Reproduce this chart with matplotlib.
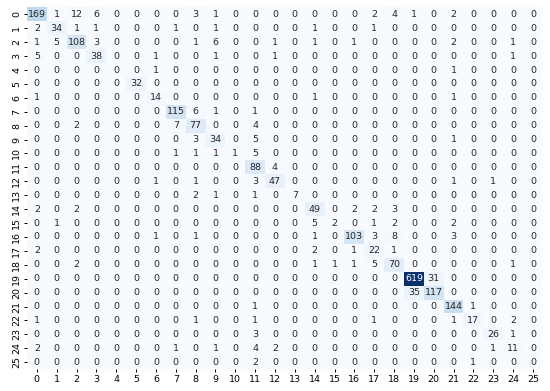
import matplotlib
matplotlib.use('Agg')
import matplotlib.pyplot as plt
import numpy as np
import seaborn as sns

# Confusion matrix rows (true class 0..25), columns = predicted class 0..25
row_00 = [169, 1, 12, 6, 0, 0, 0, 0, 3, 1, 0, 0, 0, 0, 0, 0, 0, 2, 4, 1, 0, 2, 0, 0, 0, 0]
row_01 = [2, 34, 1, 1, 0, 0, 0, 1, 0, 1, 0, 0, 0, 0, 1, 0, 0, 1, 0, 0, 0, 0, 0, 0, 0, 0]
row_02 = [1, 5, 108, 3, 0, 0, 0, 0, 1, 6, 0, 0, 1, 0, 1, 0, 1, 0, 0, 0, 0, 2, 0, 0, 1, 0]
row_03 = [5, 0, 0, 38, 0, 0, 1, 0, 0, 1, 0, 0, 1, 0, 0, 0, 0, 0, 0, 0, 0, 0, 0, 0, 1, 0]
row_04 = [0, 0, 0, 0, 0, 0, 1, 0, 0, 0, 0, 0, 0, 0, 0, 0, 0, 0, 0, 0, 0, 1, 0, 0, 0, 0]
row_05 = [0, 0, 0, 0, 0, 32, 0, 0, 0, 0, 0, 0, 0, 0, 0, 0, 0, 0, 0, 0, 0, 0, 0, 0, 0, 0]
row_06 = [1, 0, 0, 0, 0, 0, 14, 0, 0, 0, 0, 0, 0, 0, 1, 0, 0, 0, 0, 0, 0, 1, 0, 0, 0, 0]
row_07 = [0, 0, 0, 0, 0, 0, 0, 115, 6, 1, 0, 1, 0, 0, 0, 0, 0, 0, 0, 0, 0, 0, 0, 0, 0, 0]
row_08 = [0, 0, 2, 0, 0, 0, 0, 7, 77, 0, 0, 4, 0, 0, 0, 0, 0, 0, 0, 0, 0, 0, 0, 0, 0, 0]
row_09 = [0, 0, 0, 0, 0, 0, 0, 0, 3, 34, 0, 5, 0, 0, 0, 0, 0, 0, 0, 0, 0, 1, 0, 0, 0, 0]
row_10 = [0, 0, 0, 0, 0, 0, 0, 1, 1, 1, 1, 5, 0, 0, 0, 0, 0, 0, 0, 0, 0, 0, 0, 0, 0, 0]
row_11 = [0, 0, 0, 0, 0, 0, 0, 0, 0, 0, 0, 88, 4, 0, 0, 0, 0, 0, 0, 0, 0, 0, 0, 0, 0, 0]
row_12 = [0, 0, 0, 0, 0, 0, 1, 0, 1, 0, 0, 3, 47, 0, 0, 0, 0, 0, 0, 0, 0, 1, 0, 1, 0, 0]
row_13 = [0, 0, 0, 0, 0, 0, 0, 0, 2, 1, 0, 1, 0, 7, 0, 0, 0, 0, 0, 0, 0, 0, 0, 0, 0, 0]
row_14 = [2, 0, 2, 0, 0, 0, 0, 0, 0, 0, 0, 0, 0, 0, 49, 0, 2, 2, 3, 0, 0, 0, 0, 0, 0, 0]
row_15 = [0, 1, 0, 0, 0, 0, 0, 0, 0, 0, 0, 0, 0, 0, 5, 2, 0, 1, 2, 0, 0, 2, 0, 0, 0, 0]
row_16 = [0, 0, 0, 0, 0, 0, 1, 0, 1, 0, 0, 0, 0, 0, 1, 0, 103, 3, 8, 0, 0, 3, 0, 0, 0, 0]
row_17 = [2, 0, 0, 0, 0, 0, 0, 0, 0, 0, 0, 0, 0, 0, 2, 0, 1, 22, 1, 0, 0, 0, 0, 0, 0, 0]
row_18 = [0, 0, 2, 0, 0, 0, 0, 0, 0, 0, 0, 0, 0, 0, 1, 1, 1, 5, 70, 0, 0, 0, 0, 0, 1, 0]
row_19 = [0, 0, 0, 0, 0, 0, 0, 0, 0, 0, 0, 0, 0, 0, 0, 0, 0, 0, 0, 619, 31, 0, 0, 0, 0, 0]
row_20 = [0, 0, 0, 0, 0, 0, 0, 0, 0, 0, 0, 0, 0, 0, 0, 0, 0, 0, 0, 35, 117, 0, 0, 0, 0, 0]
row_21 = [0, 0, 0, 0, 0, 0, 0, 0, 0, 0, 0, 1, 0, 0, 0, 0, 0, 0, 0, 0, 0, 144, 1, 0, 0, 0]
row_22 = [1, 0, 0, 0, 0, 0, 0, 0, 1, 0, 0, 1, 0, 0, 0, 0, 0, 1, 0, 0, 0, 1, 17, 0, 2, 0]
row_23 = [0, 0, 0, 0, 0, 0, 0, 0, 0, 0, 0, 3, 0, 0, 0, 0, 0, 0, 0, 0, 0, 0, 0, 26, 1, 0]
row_24 = [2, 0, 0, 0, 0, 0, 0, 1, 0, 1, 0, 4, 2, 0, 0, 0, 0, 0, 0, 0, 0, 0, 0, 1, 11, 0]
row_25 = [0, 0, 0, 0, 0, 0, 0, 0, 0, 0, 0, 2, 0, 0, 0, 0, 0, 0, 0, 0, 0, 0, 1, 0, 0, 0]

matrix = np.array([row_00, row_01, row_02, row_03, row_04, row_05, row_06, row_07,
                   row_08, row_09, row_10, row_11, row_12, row_13, row_14, row_15,
                   row_16, row_17, row_18, row_19, row_20, row_21, row_22, row_23,
                   row_24, row_25])
class_labels = list(range(26))

fig = plt.figure(figsize=(5.5, 3.91), dpi=100)
ax = fig.add_axes([0.049, 0.056, 0.938, 0.925])
sns.heatmap(matrix, annot=True, fmt='d', cmap='Blues', cbar=False, ax=ax,
            xticklabels=class_labels, yticklabels=class_labels,
            annot_kws={'fontsize': 6.8})
ax.tick_params(axis='both', labelsize=6.8, length=2.5, width=0.7, pad=1.5)
ax.set_yticklabels(class_labels, rotation=90, va='center')
ax.set_xticklabels(class_labels, rotation=0)

fig.savefig('out.png', dpi=100)
